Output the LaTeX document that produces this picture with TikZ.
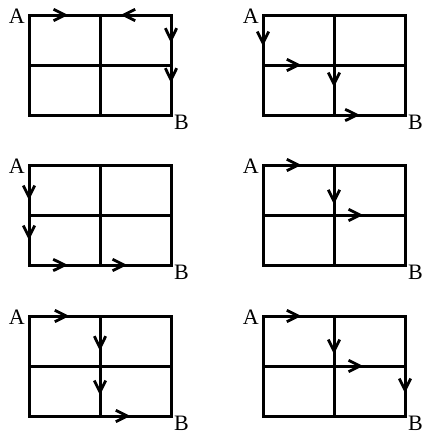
\documentclass[tikz,border=0pt]{standalone}
\usepackage{fontspec}
\setmainfont{Liberation Serif}
\tikzset{
  gridline/.style={line width=3pt, line join=miter, line cap=rect},
  chev/.pic={\draw[line width=2.8pt, line join=miter] (-11.5,5.7) -- (0,0) -- (-11.5,-5.7);},
  lbl/.style={inner sep=0pt, font=\fontsize{22}{22}\selectfont},
}
\newcommand{\mygrid}[1]{%
  \draw[gridline] (0,0) rectangle (142,100);
  \draw[gridline] (0,50) -- (142,50);
  \draw[gridline] (71,0) -- (71,100);
  \node[lbl, anchor=base east] (A#1) at (-4,8.3) {A};
  \node[lbl, anchor=base west] (B#1) at (145,114.3) {B};
}
\begin{document}
\begin{tikzpicture}[x=1pt,y=-1pt]
\useasboundingbox (0,0) rectangle (424,431);
% grid 1
\begin{scope}[shift={(29,15)}]
  \mygrid{1}
  \pic at (36,0) {chev};
  \pic[rotate=180] at (94.7,0) {chev};
  \pic[rotate=-90] at (142,24.7) {chev};
  \pic[rotate=-90] at (142,64.7) {chev};
\end{scope}
% grid 2
\begin{scope}[shift={(263,15)}]
  \mygrid{2}
  \pic[rotate=-90] at (0,28) {chev};
  \pic at (35.3,50) {chev};
  \pic[rotate=-90] at (71,69) {chev};
  \pic at (93.7,100) {chev};
\end{scope}
% grid 3
\begin{scope}[shift={(29,165)}]
  \mygrid{3}
  \pic[rotate=-90] at (0,32) {chev};
  \pic[rotate=-90] at (0,72) {chev};
  \pic at (35.7,100) {chev};
  \pic at (95,100) {chev};
\end{scope}
% grid 4
\begin{scope}[shift={(263,165)}]
  \mygrid{4}
  \pic at (35.3,0) {chev};
  \pic[rotate=-90] at (71,36.3) {chev};
  \pic at (97,50) {chev};
\end{scope}
% grid 5
\begin{scope}[shift={(29,316)}]
  \mygrid{5}
  \pic at (37.3,0) {chev};
  \pic[rotate=-90] at (71,31.7) {chev};
  \pic[rotate=-90] at (71,76) {chev};
  \pic at (98.3,100) {chev};
\end{scope}
% grid 6
\begin{scope}[shift={(263,316)}]
  \mygrid{6}
  \pic at (35.3,0) {chev};
  \pic[rotate=-90] at (71,35) {chev};
  \pic at (97,50) {chev};
  \pic[rotate=-90] at (142,74) {chev};
\end{scope}
\end{tikzpicture}
\end{document}
